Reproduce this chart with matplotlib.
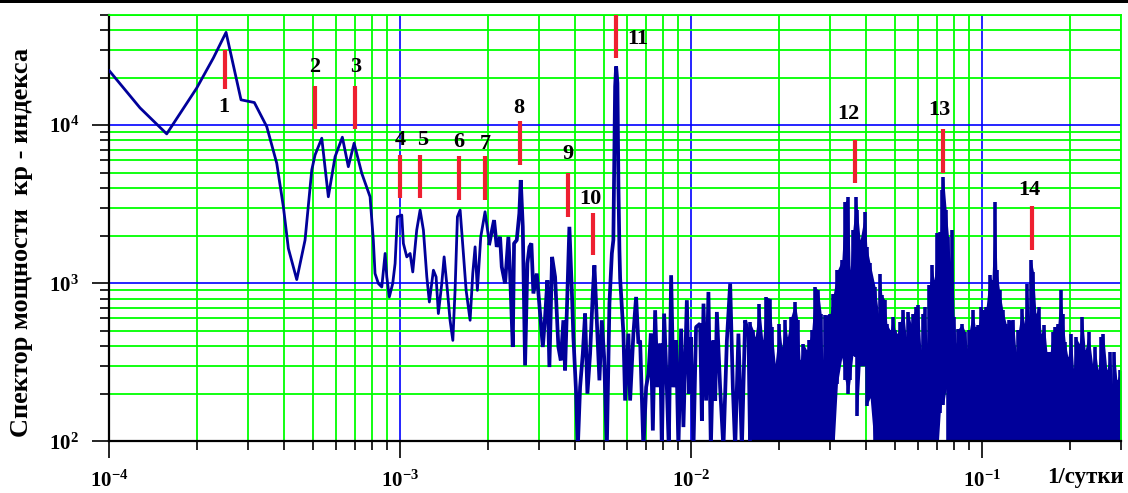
import matplotlib
matplotlib.use("Agg")
import matplotlib.pyplot as plt
from matplotlib.ticker import LogLocator, FuncFormatter, NullFormatter
from matplotlib.patches import Rectangle

# ---------------- data ----------------
# low-frequency part of the spectrum (line), frequency in 1/day
freq_line = [
    1.0e-4, 1.275e-4, 1.575e-4, 1.997e-4, 2.278e-4, 2.519e-4, 2.836e-4, 3.151e-4,
    3.476e-4, 3.763e-4, 3.965e-4, 4.125e-4, 4.408e-4, 4.707e-4, 4.964e-4, 5.095e-4,
    5.373e-4, 5.66e-4, 5.97e-4, 6.324e-4, 6.63e-4, 6.94e-4, 7.374e-4, 7.875e-4,
    8.08e-4, 8.19e-4, 8.41e-4, 8.64e-4, 8.87e-4, 8.99e-4, 9.17e-4, 9.42e-4,
    9.60e-4, 9.77e-4, 1.012e-3, 1.025e-3, 1.053e-3, 1.081e-3, 1.104e-3, 1.139e-3,
    1.17e-3, 1.201e-3, 1.234e-3, 1.259e-3, 1.30e-3, 1.328e-3, 1.352e-3, 1.389e-3,
    1.415e-3, 1.452e-3, 1.483e-3, 1.516e-3, 1.543e-3, 1.572e-3, 1.606e-3, 1.648e-3,
    1.684e-3, 1.738e-3, 1.775e-3, 1.808e-3, 1.841e-3, 1.891e-3, 1.956e-3, 2.024e-3,
    2.101e-3, 2.146e-3, 2.203e-3, 2.233e-3, 2.292e-3, 2.353e-3, 2.385e-3, 2.436e-3,
    2.461e-3, 2.514e-3, 2.566e-3, 2.595e-3, 2.637e-3, 2.685e-3, 2.735e-3, 2.779e-3,
    2.823e-3, 2.868e-3, 2.946e-3, 3.024e-3, 3.09e-3, 3.146e-3, 3.204e-3, 3.255e-3,
    3.325e-3, 3.405e-3, 3.495e-3, 3.562e-3, 3.636e-3, 3.685e-3, 3.753e-3, 3.813e-3,
    3.887e-3, 3.936e-3, 4.02e-3, 4.075e-3, 4.15e-3, 4.24e-3, 4.318e-3, 4.397e-3,
    4.492e-3, 4.589e-3, 4.648e-3, 4.737e-3, 4.836e-3, 4.929e-3, 5.02e-3, 5.128e-3,
    5.235e-3, 5.336e-3, 5.40e-3, 5.476e-3, 5.52e-3, 5.577e-3, 5.622e-3, 5.666e-3,
    5.698e-3, 5.848e-3, 5.927e-3, 6.083e-3, 6.166e-3, 6.328e-3, 6.465e-3, 6.584e-3,
    6.673e-3, 6.85e-3, 7.0e-3, 7.128e-3, 7.264e-3, 7.381e-3, 7.516e-3, 7.655e-3,
    7.82e-3, 7.925e-3, 8.07e-3, 8.245e-3, 8.375e-3, 8.53e-3, 8.685e-3, 8.873e-3,
    9.036e-3, 9.232e-3, 9.402e-3, 9.66e-3, 9.835e-3, 9.968e-3, 1.018e-2, 1.039e-2,
    1.073e-2, 1.088e-2, 1.102e-2, 1.125e-2, 1.146e-2, 1.168e-2, 1.192e-2, 1.209e-2,
    1.225e-2, 1.257e-2, 1.29e-2, 1.326e-2, 1.361e-2, 1.39e-2, 1.416e-2, 1.453e-2,
    1.493e-2, 1.532e-2, 1.573e-2, 1.594e-2,
]
power_line = [
    22100, 12870, 8810, 17170, 26600, 38650, 14470, 13910,
    9800, 5740, 3048, 1660, 1055, 1874, 5205, 6480,
    8270, 3525, 6320, 8390, 5463, 7690, 4960, 3525,
    1874, 1152, 996, 947, 1543, 1096, 819, 996,
    1334, 2633, 2699, 1786, 1468, 1543, 1179, 2168,
    2904, 2168, 1096, 761, 1209, 1096, 643, 996,
    1468, 902, 583, 435, 902, 2633, 2904, 1543,
    902, 583, 1152, 1699, 902, 1966, 2832, 1786,
    2508, 1699, 1966, 1269, 996, 1966, 1152, 395,
    1786, 1874, 2767, 4497, 2275, 302, 1334, 1699,
    1786, 861, 1152, 643, 395, 611, 1045, 295,
    1468, 1096, 395, 325, 583, 281, 861, 2275,
    902, 456, 205, 90, 220, 358, 643, 200,
    358, 861, 1300, 583, 243, 583, 341, 90,
    743, 1543, 1874, 17570, 23530, 18460, 4080, 1620,
    1071, 480, 181, 480, 181, 480, 819, 415,
    435, 90, 220, 267, 480, 117, 675, 220,
    415, 90, 643, 220, 90, 1124, 220, 435,
    90, 516, 123, 781, 200, 456, 90, 528,
    555, 135, 743, 181, 881, 90, 435, 181,
    658, 220, 90, 435, 996, 220, 90, 480,
    90, 583, 480, 90,
]

# high-frequency, densely oscillating part: upper and lower envelopes
freq_dense = [
    1.594e-2, 1.636e-2, 1.658e-2, 1.715e-2, 1.762e-2, 1.809e-2, 1.867e-2, 1.893e-2,
    1.943e-2, 2.01e-2, 2.049e-2, 2.103e-2, 2.141e-2, 2.2e-2, 2.276e-2, 2.325e-2,
    2.368e-2, 2.43e-2, 2.496e-2, 2.548e-2, 2.597e-2, 2.666e-2, 2.737e-2, 2.796e-2,
    2.834e-2, 2.886e-2, 3.003e-2, 3.082e-2,
    3.181e-2, 3.294e-2, 3.381e-2, 3.47e-2, 3.517e-2, 3.593e-2, 3.688e-2, 3.726e-2,
    3.806e-2, 3.96e-2, 4.013e-2, 4.12e-2,
    4.286e-2, 4.4e-2, 4.46e-2, 4.52e-2, 4.64e-2, 4.703e-2, 4.828e-2, 4.932e-2,
    5.02e-2, 5.114e-2, 5.224e-2, 5.362e-2, 5.478e-2, 5.579e-2, 5.686e-2, 5.804e-2,
    5.929e-2, 6.04e-2, 6.154e-2, 6.253e-2, 6.368e-2, 6.455e-2, 6.589e-2, 6.716e-2,
    6.839e-2, 7.02e-2,
    7.172e-2, 7.27e-2, 7.362e-2, 7.521e-2,
    7.66e-2, 7.762e-2, 7.867e-2, 8.011e-2, 8.14e-2, 8.289e-2, 8.515e-2, 8.74e-2,
    8.9e-2, 9.04e-2, 9.29e-2, 9.46e-2, 9.71e-2, 9.9e-2, 1.01e-1, 1.032e-1,
    1.06e-1, 1.08e-1, 1.108e-1, 1.123e-1, 1.147e-1, 1.178e-1, 1.209e-1, 1.231e-1,
    1.238e-1, 1.281e-1, 1.306e-1, 1.333e-1, 1.369e-1, 1.398e-1, 1.425e-1, 1.451e-1,
    1.474e-1, 1.501e-1, 1.53e-1, 1.562e-1, 1.595e-1, 1.637e-1, 1.669e-1, 1.713e-1,
    1.745e-1, 1.782e-1, 1.821e-1, 1.859e-1, 1.889e-1, 1.929e-1, 1.971e-1, 2.023e-1,
    2.06e-1, 2.1e-1, 2.155e-1, 2.212e-1, 2.26e-1, 2.32e-1, 2.394e-1, 2.446e-1,
    2.499e-1, 2.564e-1, 2.612e-1, 2.683e-1, 2.754e-1, 2.804e-1, 2.849e-1, 2.904e-1,
    2.981e-1, 3.0e-1,
]
power_upper = [
    568, 504, 456, 743, 435, 819, 800, 528,
    310, 555, 395, 583, 456, 611, 761, 583,
    325, 415, 376, 435, 504, 947, 902, 643,
    325, 627, 643, 861,
    1209, 1400, 3277, 3525, 1209, 2168, 3525, 2900,
    1874, 2832, 1699, 1334,
    947, 643, 1152, 839, 781, 555, 504, 611,
    504, 480, 568, 675, 456, 658, 555, 643,
    708, 727, 376, 643, 708, 415, 971, 1300,
    1045, 2065,
    2110, 3890, 4722, 2900,
    1966, 1365, 2168, 611, 415, 516, 555, 492,
    386, 504, 675, 528, 541, 708, 675, 708,
    1124, 1045, 3277, 1209, 902, 675, 555, 504,
    583, 583, 367, 504, 691, 555, 996, 611,
    1400, 1179, 643, 708, 480, 541, 367, 367,
    492, 528, 555, 902, 643, 424, 340, 480,
    288, 456, 415, 611, 376, 492, 310, 395,
    281, 456, 480, 281, 367, 231, 367, 243,
    281, 281,
]
# 80 = below the bottom of the axis (trace reaches the floor)
power_lower = ([80] * 28
               + [232, 340, 243, 200, 243, 349, 341, 144, 300, 300, 168, 189]
               + [80] * 26
               + [150, 180, 170, 216]
               + [80] * 66)
assert len(freq_dense) == len(power_upper) == len(power_lower)
assert len(freq_line) == len(power_line)

# numbered peak markers
marker_freq = [2.50e-4, 5.095e-4, 6.978e-4, 1.0e-3, 1.17e-3, 1.597e-3, 1.952e-3,
               2.581e-3, 3.775e-3, 4.612e-3, 5.533e-3, 3.65e-2, 7.345e-2, 1.486e-1]
marker_low = [16990, 9475, 9475, 3444, 3444, 3360, 3360,
              5601, 2610, 1505, 26600, 4287, 4962, 1619]
marker_high = [30020, 17750, 17750, 6480, 6480, 6387, 6387,
               10650, 4962, 2791, 50000, 8070, 9474, 3078]
marker_labels = ["1", "2", "3", "4", "5", "6", "7",
                 "8", "9", "10", "11", "12", "13", "14"]

# layout of the marker labels: (dx, dy) pixel offsets, anchor end of the bar
label_offsets = [(-1.5, -18), (-0.5, 19), (0.8, 18.5), (-0.5, 15.3), (2.2, 15),
                 (-0.5, 13.5), (0, 12.3), (-1, 12.7), (-0.5, 19.6), (-2.8, 13.9),
                 (20.9, -24.8), (-6.4, 25.7), (-4.2, 19), (-2.8, 16.5)]
label_anchor = ["low"] + ["high"] * 13

x_limits = (1e-4, 0.3)
y_limits = (1e2, 5e4)
noisy_from = 2.0e-3   # above this frequency the trace is drawn with a heavier pen

# ---------------- style ----------------
W, H = 1128, 493
SERIF = "Liberation Serif"
plt.rcParams["font.family"] = [SERIF, "DejaVu Serif"]
plt.rcParams["mathtext.fontset"] = "custom"
plt.rcParams["mathtext.rm"] = SERIF + ":bold"
plt.rcParams["mathtext.bf"] = SERIF + ":bold"
plt.rcParams["mathtext.it"] = SERIF + ":bold"

NAVY = "#00009a"
GREEN = "#00ff00"
BLUE = "#0000ff"
RED = "#ee2030"

fig = plt.figure(figsize=(W / 100, H / 100), dpi=100)
ax = fig.add_axes([109.3 / W, 1 - 441.3 / H, (1121 - 109.3) / W, (441.3 - 14.7) / H])
ax.set_xscale("log")
ax.set_yscale("log")
ax.set_xlim(*x_limits)
ax.set_ylim(*y_limits)

ax.xaxis.set_major_locator(LogLocator(base=10, numticks=10))
ax.xaxis.set_minor_locator(LogLocator(base=10, subs=range(2, 10), numticks=50))
ax.yaxis.set_major_locator(LogLocator(base=10, numticks=10))
ax.yaxis.set_minor_locator(LogLocator(base=10, subs=range(2, 10), numticks=50))


def pow_fmt(v, pos):
    import math
    e = int(round(math.log10(v)))
    return r"$\mathbf{10^{%d}}$" % e


ax.xaxis.set_major_formatter(FuncFormatter(pow_fmt))
ax.yaxis.set_major_formatter(FuncFormatter(pow_fmt))
ax.xaxis.set_minor_formatter(NullFormatter())
ax.yaxis.set_minor_formatter(NullFormatter())

ax.grid(which="minor", color=GREEN, lw=1.3, zorder=0)
ax.grid(which="major", color=BLUE, lw=1.2, zorder=0)
ax.set_axisbelow(True)

ax.tick_params(which="major", direction="out", length=12, width=1.2, color="black",
               labelsize=15, pad=9)
ax.tick_params(which="minor", direction="out", length=6.5, width=1.2, color="black")
ax.tick_params(axis="y", which="major", pad=10)

for s in ("left", "bottom"):
    ax.spines[s].set_color("black")
    ax.spines[s].set_linewidth(1.6)
for s in ("top", "right"):
    ax.spines[s].set_color(GREEN)
    ax.spines[s].set_linewidth(1.3)

# spectrum: dense part as a filled band with a vertical stroke at each sample
ax.fill_between(freq_dense, power_lower, power_upper, color=NAVY, lw=0, zorder=2)
ax.vlines(freq_dense, power_lower, power_upper, colors=NAVY, lw=2.6, zorder=2)

smooth = [(f, p) for f, p in zip(freq_line, power_line) if f <= noisy_from * 1.02]
noisy = [(f, p) for f, p in zip(freq_line, power_line) if f >= noisy_from * 0.98]
ax.plot([f for f, _ in smooth], [p for _, p in smooth], color=NAVY, lw=2.0, zorder=3)
ax.plot([f for f, _ in noisy], [p for _, p in noisy], color=NAVY, lw=2.7, zorder=3,
        solid_joinstyle="bevel")

# markers
ax.vlines(marker_freq, marker_low, marker_high, colors=RED, lw=3, zorder=5)
for f, lo, hi, lab, off, anc in zip(marker_freq, marker_low, marker_high,
                                    marker_labels, label_offsets, label_anchor):
    y0 = lo if anc == "low" else hi
    ax.annotate(lab, xy=(f, y0), xytext=off, textcoords="offset pixels",
                ha="center", va="center", fontsize=16, fontweight="bold",
                family=SERIF, color="black", zorder=6, annotation_clip=False)

# axis titles
fig.text(22 / W, 1 - 242 / H, "Спектор мощности  кр - индекса", rotation=90,
         ha="center", va="center", fontsize=19, fontweight="bold", family=SERIF)
fig.text(1124 / W, 1 - 478 / H, "1/сутки", ha="right", va="center",
         fontsize=16.5, fontweight="bold", family=SERIF)

# black rule along the top of the picture
fig.add_artist(Rectangle((0, 1 - 3 / H), 1, 3 / H, transform=fig.transFigure,
                         color="black", lw=0))

fig.savefig("out.png", dpi=100)
